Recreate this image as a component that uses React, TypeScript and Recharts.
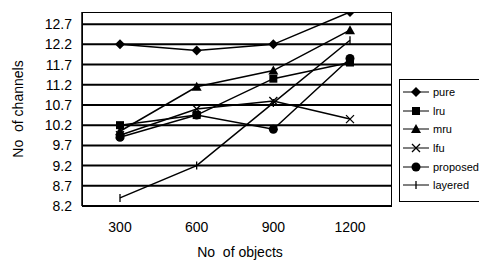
import { LineChart, Line, XAxis, YAxis, CartesianGrid } from 'recharts';

const objects = ['300', '600', '900', '1200'];
const pure = [12.2, 12.05, 12.2, 13.0];
const lru = [10.2, 10.45, 11.35, 11.75];
const mru = [10.05, 11.15, 11.55, 12.55];
const lfu = [9.95, 10.6, 10.8, 10.35];
const proposed = [9.9, 10.45, 10.1, 11.85];
const layered = [8.4, 9.2, 10.75, 12.3];
const yTicks = [8.2, 8.7, 9.2, 9.7, 10.2, 10.7, 11.2, 11.7, 12.2, 12.7];

const seriesList = [
    { key: 'pure', name: 'pure', values: pure, mark: 'diamond' },
    { key: 'lru', name: 'lru', values: lru, mark: 'square' },
    { key: 'mru', name: 'mru', values: mru, mark: 'triangle' },
    { key: 'lfu', name: 'lfu', values: lfu, mark: 'cross' },
    { key: 'proposed', name: 'proposed', values: proposed, mark: 'circle' },
    { key: 'layered', name: 'layered', values: layered, mark: 'tick' },
];

const chartData = objects.map((o, i) => {
    const row: any = { name: o };
    seriesList.forEach(s => { row[s.key] = s.values[i]; });
    return row;
});

const FONT = '"Liberation Sans", Arial, sans-serif';

function Marker({ kind, cx, cy }: { kind: string; cx: number; cy: number }) {
    switch (kind) {
        case 'diamond':
            return <polygon points={`${cx},${cy - 5} ${cx + 5},${cy} ${cx},${cy + 5} ${cx - 5},${cy}`} fill="#000" />;
        case 'square':
            return <rect x={cx - 4} y={cy - 4} width={8} height={8} fill="#000" />;
        case 'triangle':
            return <polygon points={`${cx},${cy - 5} ${cx + 5},${cy + 4} ${cx - 5},${cy + 4}`} fill="#000" />;
        case 'cross':
            return <path d={`M${cx - 4},${cy - 4}L${cx + 4},${cy + 4}M${cx + 4},${cy - 4}L${cx - 4},${cy + 4}`} stroke="#000" strokeWidth={1.3} />;
        case 'circle':
            return <circle cx={cx} cy={cy} r={4.5} fill="#000" />;
        default:
            return <path d={`M${cx},${cy - 4}L${cx},${cy + 4}`} stroke="#000" strokeWidth={1.3} />;
    }
}

function makeDot(kind: string) {
    return (props: any) => (
        <g key={`${kind}-${props.index}`}>
            <Marker kind={kind} cx={props.cx} cy={props.cy} />
        </g>
    );
}

function LegendBox() {
    return (
        <div style={{ position: 'absolute', left: 399, top: 79, border: '1px solid #000', padding: '3px 0 6px 3px', width: 90, fontFamily: FONT, fontSize: 11, background: '#fff' }}>
            {seriesList.map(s => (
                <div key={s.key} style={{ display: 'flex', alignItems: 'center', height: 18.6, whiteSpace: 'nowrap' }}>
                    <svg width={26} height={12} style={{ marginRight: 4 }}>
                        <line x1={0} y1={6} x2={26} y2={6} stroke="#000" strokeWidth={1} />
                        <Marker kind={s.mark} cx={13} cy={6} />
                    </svg>
                    <span>{s.name}</span>
                </div>
            ))}
        </div>
    );
}

export default function App() {
    return (
        <div style={{ position: 'absolute', left: 0, top: 0, width: 479, height: 265, background: '#fff', overflow: 'hidden' }}>
            <LineChart
                width={479}
                height={265}
                data={chartData}
                margin={{ top: 12, right: 87, left: 0, bottom: 9 }}
            >
                <CartesianGrid vertical={false} stroke="#000" strokeWidth={2} horizontalValues={yTicks} />
                <XAxis
                    dataKey="name"
                    padding={{ left: 38, right: 42 }}
                    height={50}
                    tickLine={false}
                    tickMargin={10}
                    axisLine={{ stroke: '#000', strokeWidth: 1.5 }}
                    tick={{ fill: '#000', fontSize: 14, fontFamily: FONT }}
                    label={{
                        content: (p: any) => {
                            const vb = p.viewBox;
                            return (
                                <text x={240} y={vb.y + 51} textAnchor="middle" fill="#000" fontSize={14} fontFamily={FONT} style={{ whiteSpace: 'pre' }}>
                                    {'No  of objects'}
                                </text>
                            );
                        },
                    }}
                />
                <YAxis
                    domain={[8.2, 13]}
                    ticks={yTicks}
                    interval={0}
                    width={82}
                    tickLine={false}
                    tickMargin={4}
                    axisLine={{ stroke: '#000', strokeWidth: 1.5 }}
                    tick={{ fill: '#000', fontSize: 14, fontFamily: FONT }}
                    tickFormatter={(v: number) => v.toFixed(1)}
                    allowDataOverflow
                    label={{
                        content: (p: any) => {
                            const vb = p.viewBox;
                            const cy = vb.y + vb.height / 2;
                            return (
                                <text x={23} y={cy} transform={`rotate(-90, 23, ${cy})`} textAnchor="middle" fill="#000" fontSize={14} fontFamily={FONT} style={{ whiteSpace: 'pre' }}>
                                    {'No  of channels'}
                                </text>
                            );
                        },
                    }}
                />
                {seriesList.map(s => (
                    <Line
                        key={s.key}
                        dataKey={s.key}
                        name={s.name}
                        stroke="#000"
                        strokeWidth={1.5}
                        dot={makeDot(s.mark)}
                        activeDot={false}
                        isAnimationActive={false}
                    />
                ))}
            </LineChart>
            <div style={{ position: 'absolute', left: 82, top: 12, width: 310, height: 194, border: '1.5px solid #000', boxSizing: 'border-box', pointerEvents: 'none' }} />
            <LegendBox />
        </div>
    );
}
